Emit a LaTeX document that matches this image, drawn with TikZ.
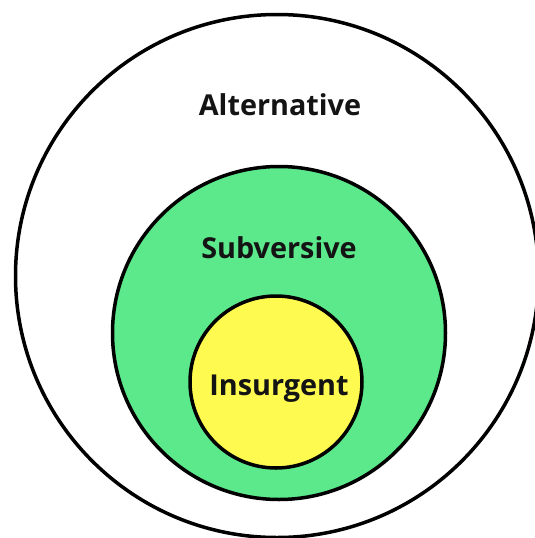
\documentclass[tikz,border=0pt]{standalone}
\usepackage{fontspec}
\setmainfont{Open Sans}
\usepackage{xcolor}
\usepackage{tikz}
\usetikzlibrary{positioning}
\definecolor{ringgreen}{RGB}{92,233,140}
\definecolor{coreyellow}{RGB}{255,250,80}

\begin{document}
\begin{tikzpicture}[
  x=1pt, y=-1pt,
  ring/.style={circle, draw=black, line width=3.5pt, inner sep=0pt},
  label/.style={anchor=base, font=\fontsize{28.8}{32}\selectfont\bfseries, text=black!92},
]
\useasboundingbox (0,0) rectangle (535,538);

% Circles
\node[ring, fill=white, minimum size=523pt] (outer) at (277,276) {};
\node[ring, fill=ringgreen, minimum size=333pt] (middle) at (279,333) {};
\node[ring, fill=coreyellow, minimum size=172pt] (inner) at (276,382) {};

% Labels
\node[label] (alt) at (280,115) {Alternative};
\node[label] (sub) at (279,258) {Subversive};
\node[label] (ins) at (279,395) {Insurgent};

\end{tikzpicture}
\end{document}
